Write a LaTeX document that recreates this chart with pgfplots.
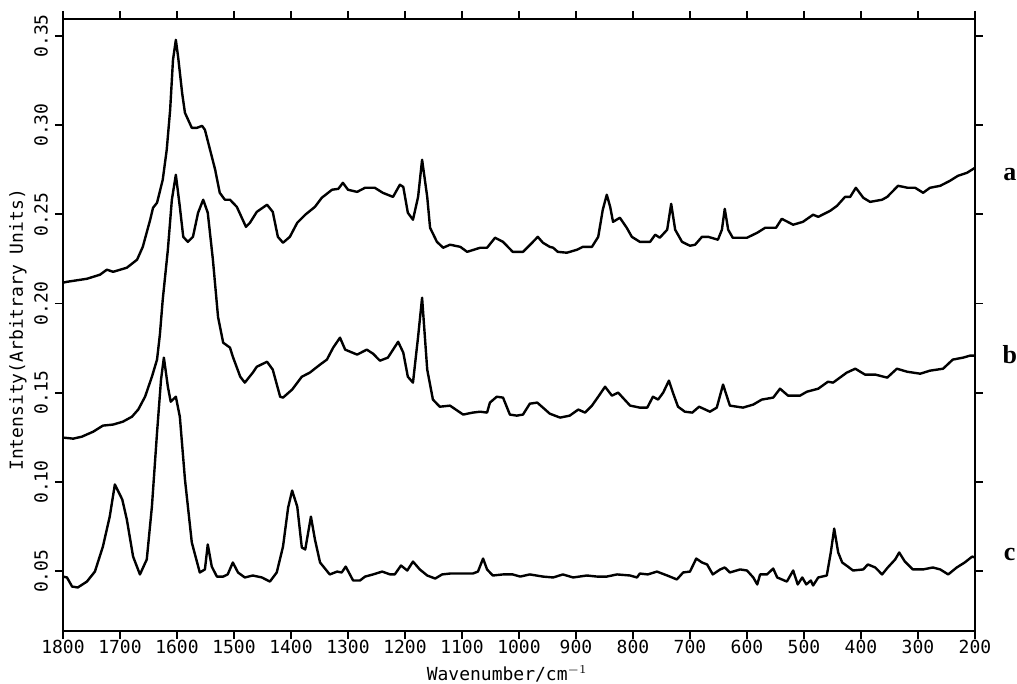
\documentclass[border=0pt]{standalone}
\usepackage{fontspec}
\usepackage{pgfplots}
\pgfplotsset{compat=1.18}
\newfontfamily\plotfont{DejaVu Sans Mono}
\newfontfamily\labfont{Liberation Serif}
\begin{document}
\begin{tikzpicture}
\useasboundingbox (-31.5pt,-26.5pt) rectangle (477pt,315.5pt);
\begin{axis}[
  scale only axis, width=456pt, height=306pt,
  x dir=reverse, xmin=200, xmax=1800, ymin=0.0165, ymax=0.3595,
  xtick={200,300,400,500,600,700,800,900,1000,1100,1200,1300,1400,1500,1600,1700,1800},
  ytick={0.05,0.10,0.15,0.20,0.25,0.30,0.35},
  tick align=outside, major tick length=4pt,
  axis line style={line width=0.9pt},
  every tick/.style={line width=0.9pt, black},
  clip=false,
  /pgf/number format/assume math mode=true,
  xticklabel style={font=\plotfont\fontsize{9}{10}\selectfont, inner sep=1pt, yshift=0.5pt, /pgf/number format/set thousands separator={}},
  yticklabel style={font=\plotfont\fontsize{9}{10}\selectfont, rotate=90, anchor=south,
    /pgf/number format/.cd, fixed, fixed zerofill, precision=2},
  xlabel={Wavenumber/cm$^{-1}$},
  ylabel={Intensity(Arbitrary Units)},
  xlabel style={font=\plotfont\fontsize{9}{10}\selectfont, inner sep=0.5pt, at={(axis description cs:0.487,-0.070)}, anchor=center},
  ylabel style={font=\plotfont\fontsize{9}{10}\selectfont, at={(axis description cs:-0.0493,0.492)}, anchor=center},
  spec/.style={black, no markers, line width=1.2pt, line join=round},
]
% curve a
\addplot[spec] coordinates {
(1800,0.2117)(1793,0.2122)(1758,0.2139)(1735,0.2162)(1723,0.2190)(1712,0.2178)(1688,0.2201)(1670,0.2246)(1660,0.2318)(1647,0.2470)(1642,0.2537)(1635,0.2565)(1625,0.2694)(1618,0.2862)(1612,0.3086)(1607,0.3366)(1602,0.3478)(1598,0.3382)(1591,0.3181)(1586,0.3069)(1574,0.2985)(1565,0.2985)(1556,0.2996)(1551,0.2974)(1542,0.2862)(1533,0.2750)(1525,0.2621)(1516,0.2582)(1507,0.2582)(1495,0.2542)(1479,0.2430)(1472,0.2453)(1460,0.2514)(1442,0.2554)(1432,0.2514)(1423,0.2374)(1414,0.2341)(1402,0.2374)(1389,0.2453)(1375,0.2498)(1358,0.2542)(1346,0.2593)(1328,0.2638)(1317,0.2643)(1309,0.2677)(1300,0.2638)(1284,0.2626)(1270,0.2649)(1253,0.2649)(1239,0.2621)(1221,0.2598)(1209,0.2666)(1203,0.2654)(1195,0.2509)(1186,0.2470)(1177,0.2598)(1170,0.2806)(1161,0.2598)(1156,0.2425)(1144,0.2346)(1133,0.2313)(1121,0.2330)(1103,0.2318)(1091,0.2290)(1068,0.2313)(1056,0.2313)(1042,0.2369)(1028,0.2346)(1011,0.2290)(993,0.2290)(977,0.2341)(967,0.2374)(958,0.2341)(946,0.2318)(940,0.2313)(932,0.2290)(916,0.2285)(898,0.2302)(888,0.2318)(872,0.2318)(861,0.2374)(853,0.2526)(846,0.2610)(840,0.2542)(835,0.2458)(823,0.2481)(811,0.2425)(802,0.2374)(788,0.2346)(770,0.2346)(761,0.2386)(753,0.2369)(740,0.2414)(733,0.2559)(726,0.2414)(714,0.2346)(700,0.2324)(691,0.2330)(679,0.2374)(668,0.2374)(651,0.2358)(644,0.2414)(639,0.2531)(633,0.2414)(625,0.2369)(600,0.2369)(582,0.2397)(568,0.2425)(549,0.2425)(539,0.2475)(519,0.2442)(502,0.2458)(484,0.2498)(475,0.2486)(454,0.2520)(442,0.2548)(428,0.2598)(419,0.2598)(409,0.2649)(396,0.2593)(384,0.2570)(363,0.2582)(354,0.2598)(335,0.2660)(318,0.2649)(305,0.2649)(291,0.2621)(279,0.2649)(261,0.2660)(244,0.2688)(230,0.2716)(214,0.2733)(200,0.2761)
};
% curve b
\addplot[spec] coordinates {
(1800,0.1249)(1782,0.1243)(1767,0.1254)(1747,0.1282)(1730,0.1316)(1712,0.1322)(1695,0.1338)(1679,0.1366)(1668,0.1406)(1656,0.1478)(1644,0.1590)(1635,0.1686)(1630,0.1826)(1625,0.2022)(1616,0.2302)(1609,0.2582)(1602,0.2722)(1595,0.2542)(1589,0.2374)(1581,0.2346)(1572,0.2374)(1563,0.2509)(1554,0.2582)(1546,0.2509)(1537,0.2246)(1528,0.1926)(1519,0.1781)(1507,0.1753)(1502,0.1702)(1489,0.1590)(1481,0.1557)(1467,0.1613)(1460,0.1646)(1442,0.1674)(1432,0.1630)(1419,0.1478)(1414,0.1473)(1398,0.1518)(1381,0.1590)(1367,0.1613)(1349,0.1658)(1337,0.1686)(1326,0.1753)(1314,0.1809)(1305,0.1742)(1284,0.1714)(1267,0.1742)(1256,0.1719)(1244,0.1680)(1230,0.1697)(1212,0.1786)(1203,0.1725)(1195,0.1590)(1186,0.1557)(1177,0.1814)(1170,0.2033)(1161,0.1630)(1151,0.1462)(1139,0.1422)(1121,0.1428)(1098,0.1378)(1081,0.1389)(1068,0.1394)(1056,0.1389)(1051,0.1445)(1039,0.1478)(1028,0.1473)(1016,0.1378)(1004,0.1372)(993,0.1378)(981,0.1439)(968,0.1445)(958,0.1417)(946,0.1383)(928,0.1361)(911,0.1372)(896,0.1406)(884,0.1389)(872,0.1428)(861,0.1478)(849,0.1534)(837,0.1484)(826,0.1501)(818,0.1473)(805,0.1428)(788,0.1417)(775,0.1417)(765,0.1478)(756,0.1462)(747,0.1501)(737,0.1568)(730,0.1501)(721,0.1422)(709,0.1394)(696,0.1389)(684,0.1422)(665,0.1394)(653,0.1417)(642,0.1546)(630,0.1428)(607,0.1417)(589,0.1434)(574,0.1462)(554,0.1473)(542,0.1523)(528,0.1484)(507,0.1484)(495,0.1506)(475,0.1523)(458,0.1562)(449,0.1557)(425,0.1613)(410,0.1635)(393,0.1602)(375,0.1602)(354,0.1585)(337,0.1635)(319,0.1618)(296,0.1607)(279,0.1624)(256,0.1635)(239,0.1686)(221,0.1697)(209,0.1708)(200,0.1708)
};
% curve c
\addplot[spec] coordinates {
(1800,0.0470)(1793,0.0465)(1784,0.0414)(1774,0.0409)(1758,0.0442)(1744,0.0498)(1730,0.0638)(1718,0.0806)(1709,0.0986)(1696,0.0902)(1688,0.0790)(1677,0.0582)(1665,0.0482)(1653,0.0566)(1644,0.0862)(1635,0.1277)(1628,0.1574)(1623,0.1697)(1616,0.1534)(1611,0.1450)(1602,0.1478)(1595,0.1366)(1586,0.1014)(1574,0.0661)(1560,0.0493)(1551,0.0510)(1546,0.0650)(1539,0.0526)(1530,0.0470)(1519,0.0470)(1511,0.0482)(1502,0.0549)(1493,0.0493)(1481,0.0465)(1467,0.0476)(1451,0.0465)(1437,0.0442)(1425,0.0493)(1414,0.0638)(1405,0.0857)(1398,0.0952)(1389,0.0862)(1381,0.0633)(1375,0.0622)(1365,0.0806)(1358,0.0678)(1349,0.0549)(1332,0.0482)(1319,0.0498)(1311,0.0493)(1304,0.0526)(1291,0.0448)(1279,0.0448)(1270,0.0470)(1256,0.0482)(1240,0.0498)(1226,0.0482)(1218,0.0482)(1207,0.0532)(1196,0.0504)(1186,0.0554)(1174,0.0510)(1161,0.0476)(1147,0.0459)(1135,0.0482)(1121,0.0487)(1098,0.0487)(1081,0.0487)(1072,0.0498)(1063,0.0571)(1056,0.0510)(1046,0.0476)(1028,0.0482)(1011,0.0482)(998,0.0470)(981,0.0482)(958,0.0470)(940,0.0465)(923,0.0482)(905,0.0465)(881,0.0476)(863,0.0470)(846,0.0470)(828,0.0482)(805,0.0476)(793,0.0465)(788,0.0487)(774,0.0482)(758,0.0498)(740,0.0476)(723,0.0454)(712,0.0493)(700,0.0498)(689,0.0571)(679,0.0549)(670,0.0538)(660,0.0482)(647,0.0510)(639,0.0521)(630,0.0493)(612,0.0510)(600,0.0504)(589,0.0465)(582,0.0426)(577,0.0482)(565,0.0482)(554,0.0515)(547,0.0465)(530,0.0442)(519,0.0504)(511,0.0426)(503,0.0465)(496,0.0426)(488,0.0448)(484,0.0420)(475,0.0465)(460,0.0476)(453,0.0605)(447,0.0739)(440,0.0605)(433,0.0549)(423,0.0526)(414,0.0504)(396,0.0510)(388,0.0538)(375,0.0521)(363,0.0482)(353,0.0521)(340,0.0566)(333,0.0605)(323,0.0554)(309,0.0510)(291,0.0510)(274,0.0521)(261,0.0510)(247,0.0482)(232,0.0521)(218,0.0549)(205,0.0582)(200,0.0577)
};
\node[font=\labfont\bfseries\fontsize{13}{14}\selectfont] at (axis cs:139,0.2722) {a};
\node[font=\labfont\bfseries\fontsize{13}{14}\selectfont] at (axis cs:139,0.1714) {b};
\node[font=\labfont\bfseries\fontsize{13}{14}\selectfont] at (axis cs:139,0.0594) {c};
\end{axis}
\end{tikzpicture}
\end{document}
